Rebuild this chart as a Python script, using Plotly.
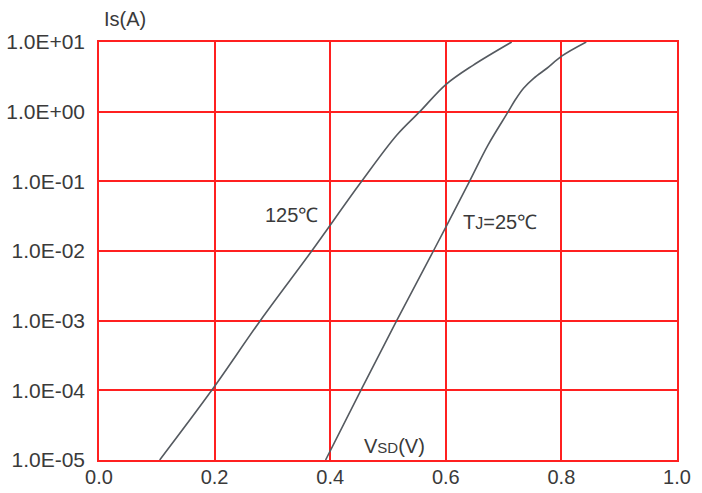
import plotly.graph_objects as go

# Source-drain diode forward characteristics: Is vs Vsd
v_125 = [0.105, 0.195, 0.279, 0.368, 0.4544, 0.515, 0.555, 0.600, 0.647, 0.714]
i_125 = [1e-5, 1e-4, 1e-3, 1e-2, 1e-1, 0.458, 1.0, 2.45, 4.63, 10.0]

v_25 = [0.392, 0.453, 0.515, 0.5785, 0.641, 0.673, 0.708, 0.720, 0.7345, 0.752, 0.775, 0.801, 0.843]
i_25 = [1e-5, 1e-4, 1e-3, 1e-2, 1e-1, 0.331, 1.0, 1.47, 2.17, 3.01, 4.20, 6.31, 10.0]

x_ticks = [0.0, 0.2, 0.4, 0.6, 0.8, 1.0]
x_tick_text = ["0.0", "0.2", "0.4", "0.6", "0.8", "1.0"]
y_ticks = [1e-5, 1e-4, 1e-3, 1e-2, 1e-1, 1e0, 1e1]
y_tick_text = ["1.0E-05", "1.0E-04", "1.0E-03", "1.0E-02", "1.0E-01", "1.0E+00", "1.0E+01"]

FONT = "Liberation Sans, Arial, sans-serif"
TEXT = "#3a3a3a"
GRID = "#ff2020"
CURVE = "#555a60"

fig = go.Figure()
for v, i in ((v_125, i_125), (v_25, i_25)):
    fig.add_trace(go.Scatter(
        x=v, y=i, mode="lines",
        line=dict(color=CURVE, width=1.6, shape="spline", smoothing=1.0),
        showlegend=False, hoverinfo="skip",
    ))

axis_common = dict(
    showgrid=True, gridcolor=GRID, gridwidth=1.5,
    showline=True, linecolor=GRID, linewidth=1.5, mirror=True,
    zeroline=False, ticks="", automargin=False,
)

fig.update_xaxes(range=[0, 1], tickvals=x_ticks, ticktext=x_tick_text,
                 ticklabelstandoff=-2,
                 tickfont=dict(family=FONT, size=20, color=TEXT), **axis_common)
fig.update_yaxes(type="log", range=[-5, 1], tickvals=y_ticks, ticktext=y_tick_text,
                 ticklabelstandoff=8,
                 tickfont=dict(family=FONT, size=21, color=TEXT), **axis_common)

ann_font = dict(family=FONT, size=20, color=TEXT)
fig.add_annotation(x=0.0, y=1.0, xref="paper", yref="paper", xshift=3, yshift=23,
                   text="Is(A)", showarrow=False, xanchor="left", yanchor="middle",
                   font=ann_font)
fig.add_annotation(x=0.382, y=-1.48, xref="x", yref="y",
                   text="125℃", showarrow=False, xanchor="right", yanchor="middle",
                   font=ann_font)
fig.add_annotation(x=0.627, y=-1.59, xref="x", yref="y",
                   text="T<span style='font-size:16px'>J</span>=25℃", showarrow=False,
                   xanchor="left", yanchor="middle", font=ann_font)
fig.add_annotation(x=0.455, y=-4.8, xref="x", yref="y",
                   text="V<span style='font-size:15px'>SD</span>(V)", showarrow=False,
                   xanchor="left", yanchor="middle", font=ann_font)

fig.update_layout(
    width=702, height=493,
    margin=dict(l=99, r=25, t=42, b=33),
    paper_bgcolor="white", plot_bgcolor="white",
)

fig.write_html("out.html")
